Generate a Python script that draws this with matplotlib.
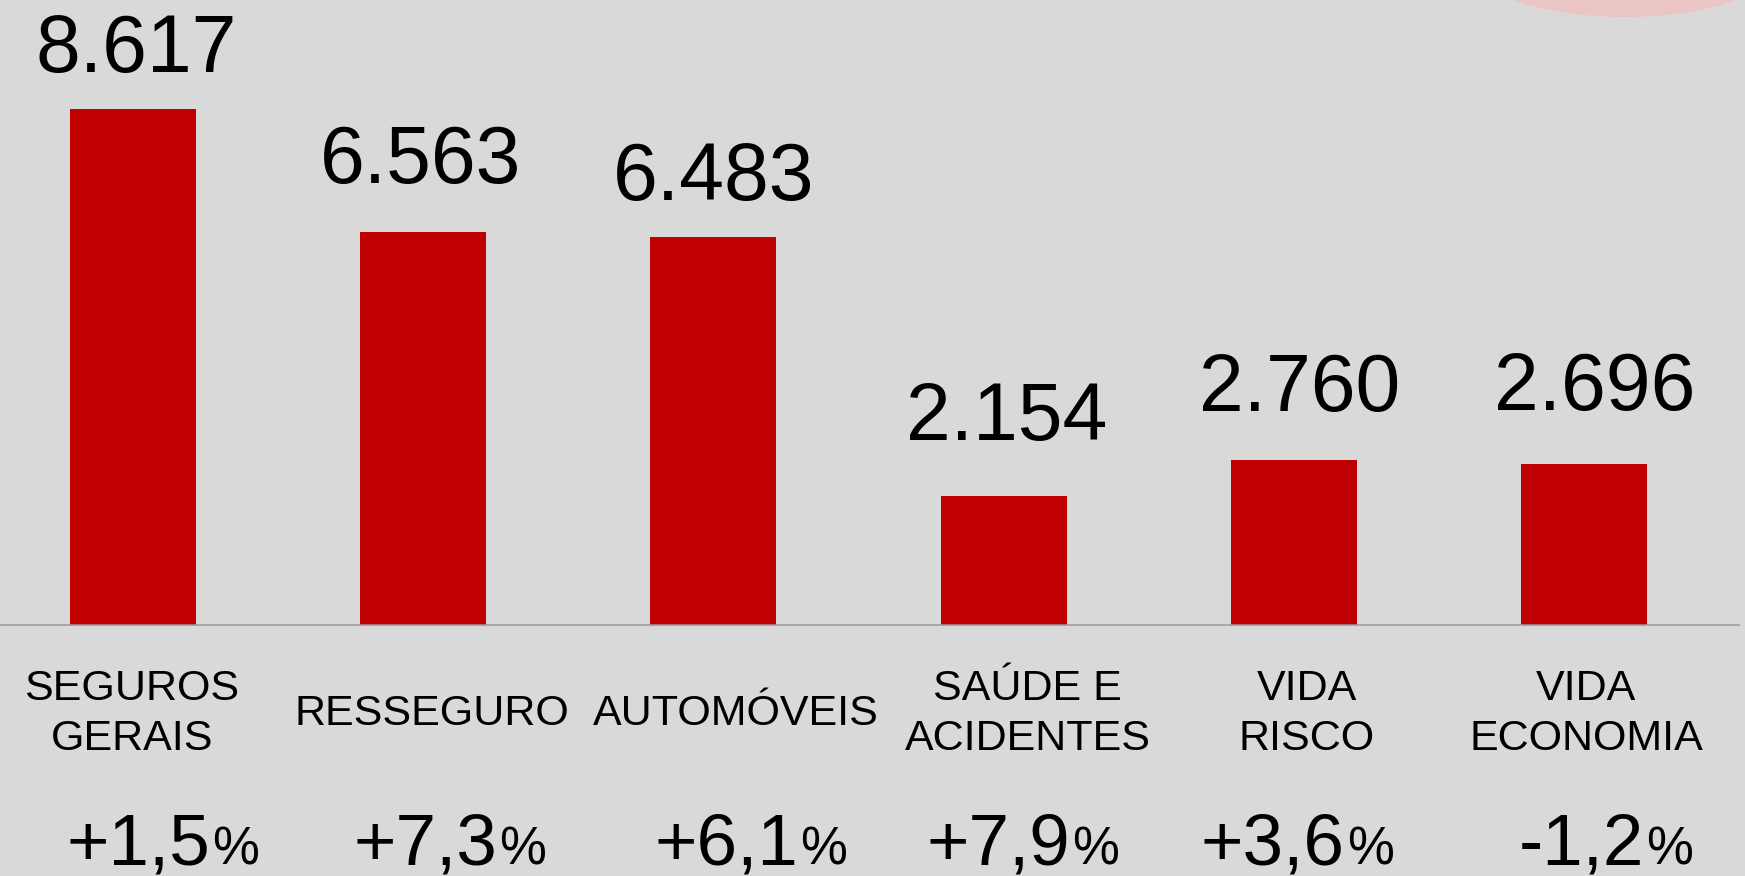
import matplotlib
matplotlib.use("Agg")
import matplotlib.pyplot as plt
from matplotlib.patches import Ellipse

# ---- data ----
categories = ["SEGUROS\nGERAIS", "RESSEGURO", "AUTOMÓVEIS", "SAÚDE E\nACIDENTES", "VIDA\nRISCO", "VIDA\nECONOMIA"]
values = [8617, 6563, 6483, 2154, 2760, 2696]
growth = [1.5, 7.3, 6.1, 7.9, 3.6, -1.2]

# ---- layout tweaks (pixels) ----
value_dx = [3, -3, 0, 3, 6, 11]
value_gap = [37, 49, 37, 56, 49, 54]
cat_dx = [-1, 9, 22, 24, 13, 2]
pct_left_dx = [-67, -70, -59, -77, -93, -65]

BG = "#d9d9d9"
RED = "#c00000"
FONT = "Liberation Sans"

W, H = 1745, 876
fig = plt.figure(figsize=(W / 100, H / 100), dpi=100, facecolor=BG)

# decorative pink shape at top right
fig.patches.append(Ellipse((1625 / W, 1 + 43 / H), width=320 / W, height=120 / H,
                           transform=fig.transFigure, facecolor="#ebc4c4",
                           edgecolor="none", zorder=0))

ax = fig.add_axes([0, (H - 625) / H, 1739 / W, 625 / H])
ax.patch.set_visible(False)

x = list(range(len(values)))
ax.bar(x, values, width=0.434, color=RED, zorder=1)

ax.set_xlim(-0.4583, 5.534)
ax.set_ylim(0, 10444)
ax.set_xticks([])
ax.set_yticks([])
for s in ["left", "right", "top"]:
    ax.spines[s].set_visible(False)
ax.spines["bottom"].set_color("#9a9a9a")
ax.spines["bottom"].set_linewidth(1.1)
ax.spines["bottom"].set_zorder(3)

def fmt_val(v):
    return f"{v:,}".replace(",", ".")

def fmt_pct(g):
    return f"{g:+.1f}".replace(".", ",")

for i, v in enumerate(values):
    ax.annotate(fmt_val(v), xy=(i, v), xycoords="data",
                xytext=(value_dx[i], value_gap[i]), textcoords="offset pixels",
                ha="center", va="baseline", fontsize=58, family=FONT, color="black")

for i, c in enumerate(categories):
    ax.annotate(c, xy=(i, 0), xycoords=("data", "axes fraction"),
                xytext=(cat_dx[i], -(714 - 625)), textcoords="offset pixels",
                ha="center", va="center", fontsize=31, family=FONT,
                linespacing=1.3, multialignment="center", color="black")

for i, g in enumerate(growth):
    t = ax.annotate(fmt_pct(g), xy=(i, 0), xycoords=("data", "axes fraction"),
                    xytext=(pct_left_dx[i], -(865 - 625)), textcoords="offset pixels",
                    ha="left", va="baseline", fontsize=52.5, family=FONT, color="black",
                    annotation_clip=False)
    ax.annotate("%", xy=(1, 0), xycoords=t, xytext=(1.5, 3), textcoords="offset points",
                ha="left", va="bottom", fontsize=38, family=FONT, color="black")

fig.savefig("out.png", dpi=100, facecolor=BG)
